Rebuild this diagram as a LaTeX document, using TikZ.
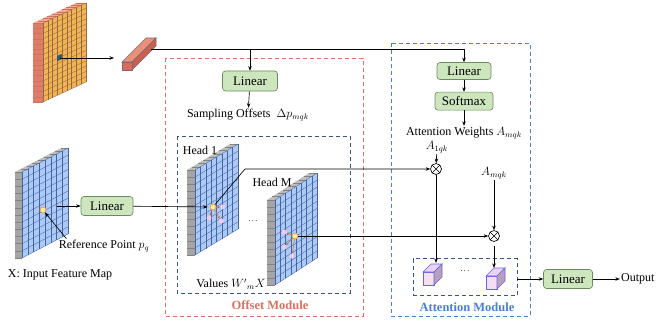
\documentclass[tikz,border=0pt]{standalone}
\usepackage{fontspec}
\setmainfont{Liberation Serif}
\usetikzlibrary{arrows.meta,positioning}
\definecolor{boxgreen}{RGB}{206,230,190}
\definecolor{boxedge}{RGB}{105,140,90}
\definecolor{offred}{RGB}{218,112,95}
\definecolor{attblue}{RGB}{72,128,215}
\definecolor{navy}{RGB}{58,82,132}
\definecolor{blufront}{RGB}{172,202,248}
\definecolor{bluline}{RGB}{70,100,160}
\definecolor{bluside}{RGB}{165,165,165}
\definecolor{blutop}{RGB}{190,190,190}
\definecolor{blusline}{RGB}{130,130,130}
\definecolor{orgfront}{RGB}{242,180,82}
\definecolor{orgline}{RGB}{150,105,70}
\definecolor{orgside}{RGB}{222,125,105}
\definecolor{orgtop}{RGB}{246,172,148}
\definecolor{orgsline}{RGB}{206,112,94}
\definecolor{cellteal}{RGB}{45,90,105}
\definecolor{rodfront}{RGB}{214,108,90}
\definecolor{rodtop}{RGB}{232,145,122}
\definecolor{rodside}{RGB}{200,96,80}
\definecolor{rodedge}{RGB}{130,100,115}
\definecolor{refyellow}{RGB}{255,236,160}
\definecolor{reforange}{RGB}{230,150,60}
\definecolor{smppink}{RGB}{240,200,235}
\definecolor{offorange}{RGB}{200,115,60}
\definecolor{cubefront}{RGB}{244,222,244}
\definecolor{cubetop}{RGB}{234,210,240}
\definecolor{cubeside}{RGB}{185,160,185}
\definecolor{cubeedge}{RGB}{100,100,235}

% feature map: x, y (front top-left), width, height, rise, cols, rows, depth, colours
\newcommand{\fmap}[9]{%
  \fill[#9side] (#1,#2) -- ++(-#8,0) -- ++(0,#4) -- ++(#8,0) -- cycle;
  \fill[#9top] (#1,#2) -- ++(-#8,0) -- ++(#3,-#5) -- ++(#8,0) -- cycle;
  \fill[#9front] (#1,#2) -- ++(#3,-#5) -- ++(0,#4) -- ++(-#3,#5) -- cycle;
  \foreach \j in {0,...,#7}
    \draw[#9sline,line width=0.35pt] ({#1-#8},{#2+\j*#4/#7}) -- ++(#8,0);
  \foreach \i in {0,...,#6}
    \draw[#9sline,line width=0.35pt] ({#1+\i*#3/#6-#8},{#2-\i*#5/#6}) -- ++(#8,0);
  \foreach \j in {0,...,#7}
    \draw[#9line,line width=0.35pt] (#1,{#2+\j*#4/#7}) -- ++(#3,-#5);
  \foreach \i in {0,...,#6}
    \draw[#9line,line width=0.35pt] ({#1+\i*#3/#6},{#2-\i*#5/#6}) -- ++(0,#4);
}
% small value cube, front top-left corner
\newcommand{\vcube}[2]{%
  \filldraw[draw=cubeedge,fill=cubefront] (#1,#2) rectangle ++(11,13);
  \filldraw[draw=cubeedge,fill=cubetop] (#1,#2) -- ++(8,-8) -- ++(11,0) -- ++(-8,8) -- cycle;
  \filldraw[draw=cubeedge,fill=cubeside] ({#1+11},#2) -- ++(8,-8) -- ++(0,13) -- ++(-8,8) -- cycle;
}

\begin{document}
\begin{tikzpicture}[x=1pt,y=-1pt,line width=0.65pt,>={Stealth[length=4.5pt,width=3.5pt]},
  box/.style={draw=boxedge,fill=boxgreen,rounded corners=3pt,inner sep=0pt,font=\fontsize{13}{15}\selectfont},
  lbl/.style={font=\fontsize{12}{14}\selectfont,inner sep=1pt},
  modlbl/.style={font=\bfseries\fontsize{12.5}{14}\selectfont},
  frame/.style={dash pattern=on 4pt off 3pt,line width=0.8pt},
  mul/.style={circle,draw,inner sep=0pt,minimum size=11pt,fill=white,
    path picture={\draw (path picture bounding box.north west) -- (path picture bounding box.south east)
      (path picture bounding box.north east) -- (path picture bounding box.south west);}},
  refpt/.style={circle,fill=refyellow,draw=reforange,inner sep=0pt,minimum size=6pt},
  smp/.style={circle,fill=smppink,inner sep=0pt,minimum size=5pt},
  offarr/.style={->,draw=offorange,line width=0.5pt,>={Stealth[length=2.5pt,width=2.5pt]}}]
  \useasboundingbox (0,0) rectangle (656,321);

  % module frames
  \draw[frame,offred] (165,58) rectangle (363,316);
  \draw[frame,attblue] (391,43) rectangle (530,316);
  \draw[frame,navy] (177,136) rectangle (350,293);
  \node[draw=navy,frame,minimum width=104pt,minimum height=37pt] (agg) at (465,277) {};
  \node[modlbl,text=offred] at (270,305) {Offset Module};
  \node[modlbl,text=attblue] at (467,307) {Attention Module};

  % query feature and rod
  \fmap{43}{23}{43}{79}{20}{9}{15}{10}{org}
  \fill[cellteal] (57,56) -- ++(4.8,-2.2) -- ++(0,5.3) -- ++(-4.8,2.2) -- cycle;
  \coordinate (cell) at (60,58);
  \coordinate (rodin) at (114,58);
  \draw[->] (cell) -- (rodin);
  \filldraw[draw=rodedge,fill=rodtop] (122,62) -- (146,38) -- (156,38) -- (132,62) -- cycle;
  \filldraw[draw=rodedge,fill=rodside] (132,62) -- (156,38) -- (156,46) -- (132,70) -- cycle;
  \filldraw[draw=rodedge,fill=rodfront] (122,62) rectangle (132,70);
  \coordinate (rod) at (151,49);
  \coordinate (split) at (250,49);
  \coordinate (turn) at (464,49);

  \node[box,minimum width=55pt,minimum height=20pt] (linoff) at (250,81) {Linear};
  \node[lbl] (samp) at (248,115) {Sampling Offsets~~$\Delta p_{mqk}$};
  \node[box,minimum width=54pt,minimum height=17pt] (linatt) at (464,71) {Linear};
  \node[box,minimum width=58pt,minimum height=18pt] (soft) [below=12pt of linatt] {Softmax};
  \node[lbl] (attw) at (464,133) {Attention Weights $A_{mqk}$};
  \node[lbl] (a1) at (437,147) {$A_{1qk}$};
  \node[mul] (mul1) at (436,169) {};
  \node[lbl] (am) at (494,173) {$A_{mqk}$};
  \node[mul] (mul2) at (494,236) {};

  \draw (rod) -- (turn);
  \draw[->] (turn) -- (linatt);
  \draw[->] (split) -- (linoff);
  \draw[->] (linoff) -- (samp);
  \draw[->] (linatt) -- (soft);
  \draw[->] (soft) -- (attw);

  % input feature map
  \fmap{22}{172}{46}{86}{24}{8}{12}{7}{blu}
  \node[refpt] (ref) at (43,210) {};
  \node[box,minimum width=52pt,minimum height=19pt] (linin) at (107,206) {Linear};
  \coordinate (xq) at (57,206);
  \draw[->] (xq) -- (linin);
  \node[lbl] (reflbl) at (104,246) {Reference Point $p_q$};
  \draw[->] ([xshift=9pt]reflbl.north west) -- (ref);
  \node[lbl] (xlbl) at (60,275) {X: Input Feature Map};

  % heads
  \fmap{195}{170}{43}{85}{26}{8}{12}{8}{blu}
  \node[lbl] at (200,150) {Head 1};
  \node[refpt] (h1) at (213,207) {};
  \node[smp] (s11) at (223,207) {};
  \node[smp] (s12) at (209,218) {};
  \node[smp] (s13) at (221,221) {};
  \draw[offarr] (h1) -- (s11);
  \draw[offarr] (h1) -- (s12);
  \draw[offarr] (h1) -- (s13);

  \fmap{275}{200}{42}{85}{27}{8}{12}{8}{blu}
  \node[lbl] at (272,182) {Head M};
  \node[refpt] (hm) at (295,236) {};
  \node[smp] (sm1) at (284,232) {};
  \node[smp] (sm2) at (284,247) {};
  \node[smp] (sm3) at (292,256) {};
  \draw[offarr] (hm) -- (sm1);
  \draw[offarr] (hm) -- (sm2);
  \draw[offarr] (hm) -- (sm3);

  \node[lbl] at (253,221) {\footnotesize .\,.\,.};
  \node[lbl] at (231,284) {Values $W'{}_{m}X$};

  \draw[->,shorten >=2pt] (linin) -- (h1);
  \coordinate (bend) at (245,169);
  \draw[->] (h1) -- (bend) -- (mul1);
  \draw[->] (hm) -- (mul2);
  \draw[->] (a1) -- (mul1);
  \draw[->] (am) -- (mul2);

  % attention output
  \vcube{423}{272}
  \vcube{486}{276}
  \node[lbl] at (465,271) {\footnotesize .\,.\,.};
  \coordinate (c1) at (436,263);
  \coordinate (c2) at (494,268);
  \draw[->] (mul1) -- (c1);
  \draw[->,shorten <=4pt] (mul2) -- (c2);

  \node[box,minimum width=49pt,minimum height=19pt] (linout) at (568,279) {Linear};
  \node[lbl] (out) [right=27pt of linout] {Output};
  \draw[->] (agg.east |- linout.west) -- (linout.west);
  \draw[->] (linout) -- (out);
\end{tikzpicture}
\end{document}
